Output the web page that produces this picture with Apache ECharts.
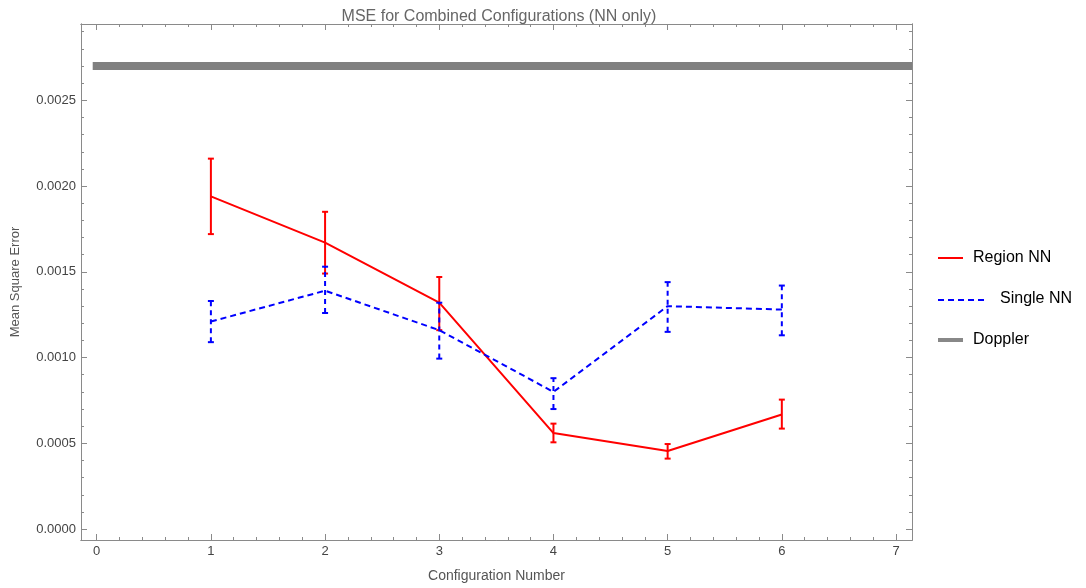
<!DOCTYPE html>
<html>
<head>
<meta charset="utf-8">
<script src="https://cdn.jsdelivr.net/npm/echarts@6/dist/echarts.min.js"></script>
<style>html,body{margin:0;padding:0;background:#fff;}#chart{width:1086px;height:588px;}</style>
</head>
<body>
<div id="chart"></div>
<script>
// ---- data ----
const configs = [1, 2, 3, 4, 5, 6];
const regionMean = [0.00194, 0.00167, 0.00132, 0.00056, 0.000455, 0.000668];
const regionLow  = [0.00172, 0.00149, 0.00116, 0.000506, 0.000411, 0.000586];
const regionHigh = [0.00216, 0.00185, 0.00147, 0.000615, 0.000496, 0.000755];
const singleMean = [0.00121, 0.00139, 0.00116, 0.00080, 0.00130, 0.00128];
const singleLow  = [0.00109, 0.00126, 0.000994, 0.00070, 0.00115, 0.00113];
const singleHigh = [0.00133, 0.00153, 0.00132, 0.00088, 0.00144, 0.00142];
const dopplerValue = 0.0027;
const xTicks = [0, 1, 2, 3, 4, 5, 6, 7];
const yTicks = [0, 0.0005, 0.0010, 0.0015, 0.0020, 0.0025];
const seriesNames = ['Region NN', 'Single NN', 'Doppler'];

// ---- axis ranges ----
const XMIN = -0.1375, XMAX = 7.14;
const YMIN = -0.0000635, YMAX = 0.002945;
const xMinor = [];
for (let i = 0; i <= 35; i++) { const v = +(i * 0.2).toFixed(2); if (v <= XMAX && Math.abs(v - Math.round(v)) > 1e-6) xMinor.push(v); }
const yMinor = [];
for (let i = 0; i <= 29; i++) { const v = +(i * 0.0001).toFixed(5); if (i % 5 !== 0) yMinor.push(v); }

const frameColor = '#8a8a8a';
const labelColor = '#444';
const font = 'Liberation Sans, Arial, sans-serif';

function xAxisDef(pos, ticks, len, showLabel, extra) {
  return Object.assign({
    type: 'value', min: XMIN, max: XMAX, position: pos,
    axisLine: { show: true, onZero: false, lineStyle: { color: frameColor, width: 1 } },
    axisTick: { show: true, inside: true, length: len, customValues: ticks, lineStyle: { color: frameColor } },
    axisLabel: { show: showLabel, customValues: ticks, color: labelColor, fontSize: 13, fontFamily: font, margin: 5 },
    splitLine: { show: false }
  }, extra || {});
}
function yAxisDef(pos, ticks, len, showLabel, extra) {
  return Object.assign({
    type: 'value', min: YMIN, max: YMAX, position: pos,
    axisLine: { show: true, onZero: false, lineStyle: { color: frameColor, width: 1 } },
    axisTick: { show: true, inside: true, length: len, customValues: ticks, lineStyle: { color: frameColor } },
    axisLabel: { show: showLabel, customValues: ticks, color: labelColor, fontSize: 13, fontFamily: font, margin: 5,
      formatter: v => v.toFixed(4) },
    splitLine: { show: false }
  }, extra || {});
}

function errorBars(lows, highs, color, dashed) {
  const data = configs.map((c, i) => [c, lows[i], highs[i]]);
  return {
    type: 'custom', xAxisIndex: 0, yAxisIndex: 0, data: data, z: 3,
    renderItem: function (params, api) {
      const x = api.value(0);
      const pLo = api.coord([x, api.value(1)]);
      const pHi = api.coord([x, api.value(2)]);
      const style = { stroke: color, lineWidth: 2, lineDash: dashed ? [5, 4] : null };
      const cw = 3;
      return {
        type: 'group',
        children: [
          { type: 'line', shape: { x1: pLo[0], y1: pLo[1], x2: pHi[0], y2: pHi[1] }, style: style },
          { type: 'line', shape: { x1: pLo[0] - cw, y1: pLo[1], x2: pLo[0] + cw, y2: pLo[1] }, style: { stroke: color, lineWidth: 2 } },
          { type: 'line', shape: { x1: pHi[0] - cw, y1: pHi[1], x2: pHi[0] + cw, y2: pHi[1] }, style: { stroke: color, lineWidth: 2 } }
        ]
      };
    }
  };
}

const chart = echarts.init(document.getElementById('chart'), null, { renderer: 'canvas' });
chart.setOption({
  animation: false,
  backgroundColor: '#ffffff',
  title: {
    text: 'MSE for Combined Configurations (NN only)',
    left: 494, top: 4, textAlign: 'center',
    textStyle: { color: '#666', fontSize: 16, fontWeight: 'normal', fontFamily: font }
  },
  grid: { left: 81, right: 174, top: 24, bottom: 48, containLabel: false, outerBoundsMode: 'none' },
  xAxis: [
    xAxisDef('bottom', xTicks, 6, true, {
      name: 'Configuration Number', nameLocation: 'middle', nameGap: 29,
      nameTextStyle: { color: '#555', fontSize: 14, fontFamily: font }
    }),
    xAxisDef('bottom', xMinor, 3, false),
    xAxisDef('top', xTicks, 6, false),
    xAxisDef('top', xMinor, 3, false)
  ],
  yAxis: [
    yAxisDef('left', yTicks, 6, true, {
      name: 'Mean Square Error', nameLocation: 'middle', nameGap: 59, nameRotate: 90,
      nameTextStyle: { color: '#555', fontSize: 13, fontFamily: font }
    }),
    yAxisDef('left', yMinor, 3, false),
    yAxisDef('right', yTicks, 6, false),
    yAxisDef('right', yMinor, 3, false)
  ],
  series: [
    {
      name: seriesNames[2], type: 'line', xAxisIndex: 0, yAxisIndex: 0, clip: true,
      data: [[0, dopplerValue], [XMAX - 0.035, dopplerValue]], showSymbol: false, symbol: 'none',
      lineStyle: { color: '#808080', width: 8, cap: 'square' }, z: 1
    },
    {
      name: seriesNames[0], type: 'line', xAxisIndex: 0, yAxisIndex: 0,
      data: configs.map((c, i) => [c, regionMean[i]]), symbol: 'none',
      lineStyle: { color: '#ff0000', width: 2 }, z: 2
    },
    errorBars(regionLow, regionHigh, '#ff0000', false),
    {
      name: seriesNames[1], type: 'line', xAxisIndex: 0, yAxisIndex: 0,
      data: configs.map((c, i) => [c, singleMean[i]]), symbol: 'none',
      lineStyle: { color: '#0000ff', width: 2, type: [6, 4] }, z: 4
    },
    errorBars(singleLow, singleHigh, '#0000ff', true)
  ],
  graphic: [
    { type: 'line', shape: { x1: 938, y1: 258, x2: 963, y2: 258 }, style: { stroke: '#ff0000', lineWidth: 2 } },
    { type: 'text', x: 973, y: 258, style: { text: seriesNames[0], fill: '#000', font: '16px ' + font, textVerticalAlign: 'middle', verticalAlign: 'middle' } },
    { type: 'line', shape: { x1: 938, y1: 300, x2: 988, y2: 300 }, style: { stroke: '#0000ff', lineWidth: 2, lineDash: [6, 4] } },
    { type: 'text', x: 1000, y: 299, style: { text: seriesNames[1], fill: '#000', font: '16px ' + font, textVerticalAlign: 'middle', verticalAlign: 'middle' } },
    { type: 'line', shape: { x1: 938, y1: 340, x2: 963, y2: 340 }, style: { stroke: '#888888', lineWidth: 4 } },
    { type: 'text', x: 973, y: 340, style: { text: seriesNames[2], fill: '#000', font: '16px ' + font, textVerticalAlign: 'middle', verticalAlign: 'middle' } }
  ]
});
</script>
</body>
</html>
